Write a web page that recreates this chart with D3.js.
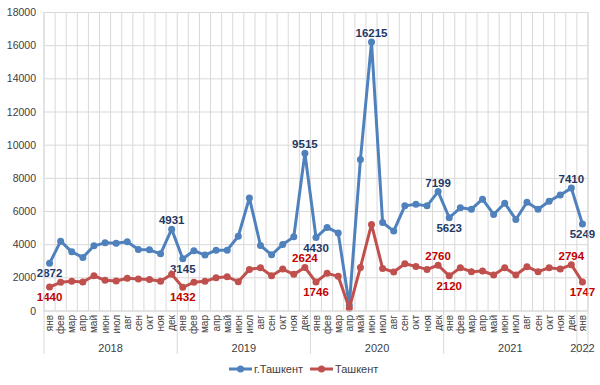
<!DOCTYPE html>
<html>
<head>
<meta charset="utf-8">
<script src="https://cdn.jsdelivr.net/npm/d3@7"></script>
<style>
	body { margin: 0; background: #fff; }
	text { font-family: "Liberation Sans", Arial, sans-serif; }
</style>
</head>
<body>
<svg id="chart" width="600" height="385"></svg>
<script>
// months of every year, short Russian names
var monthNames = ["янв", "фев", "мар", "апр", "май", "июн", "июл", "авг", "сен", "окт", "ноя", "дек"];
var years = ["2018", "2019", "2020", "2021", "2022"];
var yTicks = [0, 2000, 4000, 6000, 8000, 10000, 12000, 14000, 16000, 18000];

// г.Ташкент, Jan 2018 .. Jan 2022
var cityValues = [
	2872, 4210, 3570, 3230, 3930, 4110, 4090, 4170, 3710, 3690, 3450, 4931,
	3145, 3640, 3370, 3670, 3670, 4510, 6820, 3950, 3390, 4010, 4470, 9515,
	4430, 5040, 4710, 350, 9130, 16215, 5340, 4820, 6340, 6440, 6340, 7199,
	5623, 6220, 6140, 6740, 5820, 6500, 5520, 6560, 6140, 6620, 7000, 7410,
	5249
];
// Ташкент (region), Jan 2018 .. Jan 2022
var regionValues = [
	1440, 1730, 1800, 1750, 2125, 1850, 1810, 1970, 1925, 1900, 1790, 2210,
	1432, 1730, 1790, 2005, 2065, 1765, 2510, 2610, 2125, 2530, 2210, 2624,
	1746, 2270, 2090, 160, 2630, 5220, 2570, 2350, 2850, 2690, 2510, 2760,
	2120, 2610, 2370, 2410, 2170, 2610, 2170, 2670, 2370, 2610, 2530, 2794,
	1747
];
// which points get a value label, and on which side
var cityLabels = [[0, "below"], [11, "above"], [12, "below"], [23, "above"], [24, "below"],
	[29, "above"], [35, "above"], [36, "below"], [47, "above"], [48, "below"]];
var regionLabels = [[0, "below"], [12, "below"], [23, "above"], [24, "below"],
	[35, "above"], [36, "below"], [47, "above"], [48, "below"]];

var categories = d3.range(cityValues.length);

var plotLeft = 44, plotRight = 588, plotTop = 12.5, plotBottom = 311;
var svg = d3.select("#chart");

var x = d3.scaleBand().domain(categories).range([plotLeft, plotRight]).padding(0);
var y = d3.scaleLinear().domain([0, 18000]).range([plotBottom, plotTop]);
var cx = function (i) { return x(i) + x.bandwidth() / 2; };

// grid
var grid = svg.append("g");
grid.selectAll("line.h").data(yTicks).enter().append("line")
	.attr("x1", plotLeft).attr("x2", plotRight)
	.attr("y1", function (d) { return y(d); }).attr("y2", function (d) { return y(d); })
	.attr("stroke", "#d9d9d9").attr("stroke-width", 1);
grid.selectAll("line.v").data(categories.concat([categories.length])).enter().append("line")
	.attr("x1", function (d) { return plotLeft + d * x.bandwidth(); })
	.attr("x2", function (d) { return plotLeft + d * x.bandwidth(); })
	.attr("y1", plotTop).attr("y2", plotBottom)
	.attr("stroke", "#d9d9d9").attr("stroke-width", 1);

// y axis labels
svg.append("g").selectAll("text").data(yTicks).enter().append("text")
	.attr("x", 36).attr("y", function (d) { return y(d) + 3.5; })
	.attr("text-anchor", "end")
	.attr("font-size", 10.5).attr("fill", "#404040")
	.text(function (d) { return d; });

// month labels
svg.append("g").selectAll("text").data(categories).enter().append("text")
	.attr("transform", function (d) { return "translate(" + (cx(d) + 3.5) + ",315) rotate(-90)"; })
	.attr("text-anchor", "end")
	.attr("font-size", 10).attr("fill", "#404040")
	.text(function (d) { return monthNames[d % 12]; });

// year separators and labels
var yearStarts = [0, 12, 24, 36, 48, 49];
svg.append("g").selectAll("line").data(yearStarts).enter().append("line")
	.attr("x1", function (d) { return plotLeft + d * x.bandwidth(); })
	.attr("x2", function (d) { return plotLeft + d * x.bandwidth(); })
	.attr("y1", plotBottom).attr("y2", 354)
	.attr("stroke", "#d9d9d9").attr("stroke-width", 1);
svg.append("g").selectAll("text").data(years).enter().append("text")
	.attr("x", function (d, i) {
		var a = yearStarts[i], b = yearStarts[i + 1];
		return plotLeft + (a + b) / 2 * x.bandwidth();
	})
	.attr("y", 352)
	.attr("text-anchor", "middle")
	.attr("font-size", 11).attr("fill", "#404040")
	.text(function (d) { return d; });

function drawSeries(values, color, labels, labelColor) {
	var line = d3.line().x(function (d, i) { return cx(i); }).y(function (d) { return y(d); });
	var s = svg.append("g");
	s.append("path").datum(values)
		.attr("d", line).attr("fill", "none")
		.attr("stroke", color).attr("stroke-width", 3).attr("stroke-linejoin", "round");
	s.selectAll("circle").data(values).enter().append("circle")
		.attr("cx", function (d, i) { return cx(i); })
		.attr("cy", function (d) { return y(d); })
		.attr("r", 3.5).attr("fill", color);
	s.selectAll("text").data(labels).enter().append("text")
		.attr("x", function (d) { return cx(d[0]); })
		.attr("y", function (d) { return y(values[d[0]]) + (d[1] === "above" ? -5 : 14); })
		.attr("text-anchor", "middle")
		.attr("font-size", 11.5).attr("font-weight", "bold").attr("fill", labelColor)
		.text(function (d) { return values[d[0]]; });
}

drawSeries(cityValues, "#4f81bd", cityLabels, "#1f3864");
drawSeries(regionValues, "#c0504d", regionLabels, "#c00000");

// plot border
svg.append("rect").attr("x", plotLeft).attr("y", plotTop)
	.attr("width", plotRight - plotLeft).attr("height", plotBottom - plotTop)
	.attr("fill", "none").attr("stroke", "#d9d9d9");

// legend
var legend = [["г.Ташкент", "#4f81bd", 229], ["Ташкент", "#c0504d", 310]];
var lg = svg.append("g").selectAll("g").data(legend).enter().append("g")
	.attr("transform", function (d) { return "translate(" + d[2] + ",369)"; });
lg.append("line").attr("x1", 0).attr("x2", 23).attr("stroke", function (d) { return d[1]; }).attr("stroke-width", 3);
lg.append("circle").attr("cx", 11.5).attr("r", 3.5).attr("fill", function (d) { return d[1]; });
lg.append("text").attr("x", 25).attr("y", 4)
	.attr("font-size", 11).attr("fill", "#404040")
	.text(function (d) { return d[0]; });
</script>
</body>
</html>
